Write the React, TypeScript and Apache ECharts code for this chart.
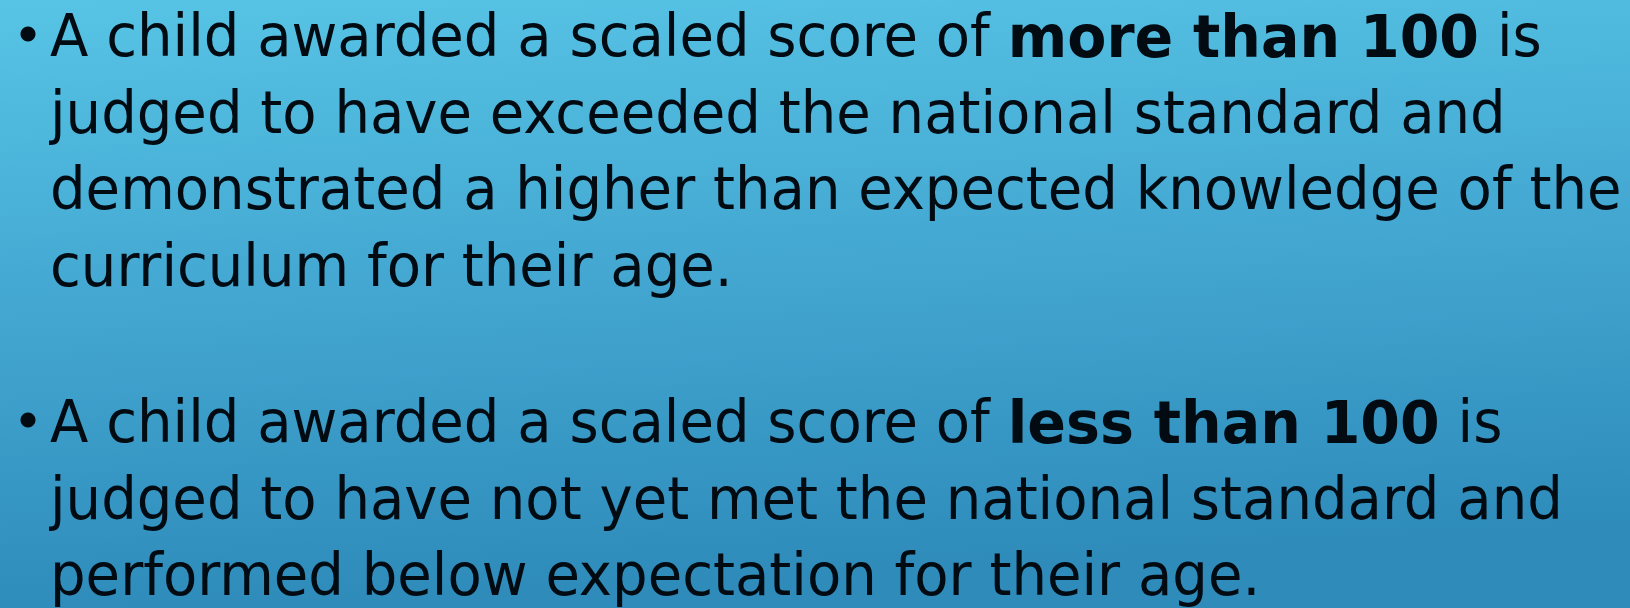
import React, { useEffect, useRef } from "react";
import * as echarts from "echarts";

// Slide content: each paragraph as lines; {b|...} marks bold runs
const paragraph1: string[] = [
  "A child awarded a scaled score of {b|more than 100} is",
  "judged to have exceeded the national standard and",
  "demonstrated a higher than expected knowledge of the",
  "curriculum for their age.",
];
const paragraph2: string[] = [
  "A child awarded a scaled score of {b|less than 100} is",
  "judged to have not yet met the national standard and",
  "performed below expectation for their age.",
];
const paragraphs: string[][] = [paragraph1, paragraph2];

const W = 1630;
const H = 608;
const FONT = "'DejaVu Sans Condensed', 'DejaVu Sans', sans-serif";
const FS = 58;
const SX = 1.075;
const LINE_GAP = 76.5;
const PARA_TOP = [56, 442]; // baseline of first line in each paragraph
const TEXT_X = 50;
const BULLET_X = 28;

export default function App() {
  const ref = useRef<HTMLDivElement>(null);
  useEffect(() => {
    if (!ref.current) return;
    const chart = echarts.init(ref.current, undefined, { renderer: "svg" });
    const elements: any[] = [
      {
        type: "rect",
        shape: { x: 0, y: 0, width: W, height: H },
        style: {
          fill: new echarts.graphic.LinearGradient(0, 0, 0.15, 1, [
            { offset: 0, color: "#57c4e5" },
            { offset: 0.5, color: "#43a7d1" },
            { offset: 1, color: "#2e8bba" },
          ]),
        },
        silent: true,
      },
    ];
    paragraphs.forEach((lines, pi) => {
      const base = PARA_TOP[pi];
      elements.push({
        type: "circle",
        shape: { cx: BULLET_X, cy: base - 22, r: 7.5 },
        style: { fill: "#020a12" },
      });
      lines.forEach((line, li) => {
        const baseline = base + li * LINE_GAP;
        elements.push({
          type: "text",
          x: TEXT_X,
          y: baseline - 0.346 * FS,
          scaleX: SX,
          style: {
            text: line,
            fontFamily: FONT,
            fontSize: FS,
            fill: "#020a12",
            verticalAlign: "middle",
            align: "left",
            lineHeight: FS,
            rich: {
              b: {
                fontFamily: FONT,
                fontSize: 59,
                fontWeight: "bold",
                fill: "#020a12",
                lineHeight: FS,
              },
            },
          },
        });
      });
    });
    chart.setOption({ animation: false, graphic: { elements } });
    return () => chart.dispose();
  }, []);
  return (
    <div
      ref={ref}
      style={{ position: "absolute", left: 0, top: 0, width: W, height: H }}
    />
  );
}
